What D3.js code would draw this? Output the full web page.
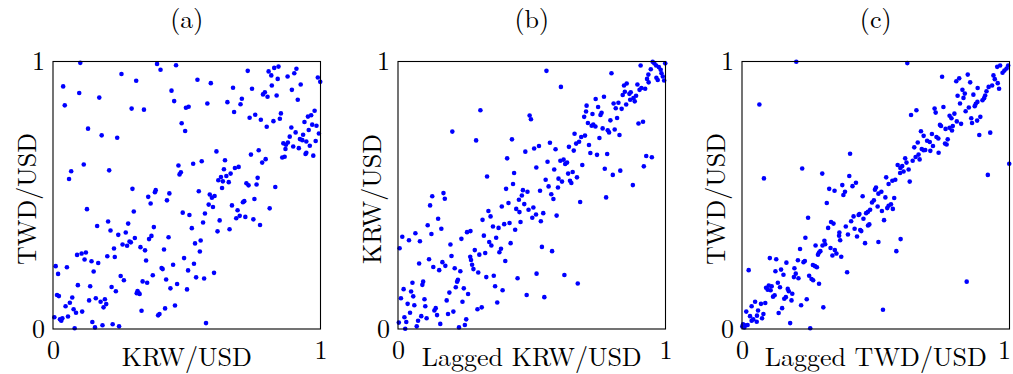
<!DOCTYPE html>
<html>
<head>
<meta charset="utf-8">
<script src="https://cdn.jsdelivr.net/npm/d3@7"></script>
<style>
  body { margin: 0; background: #fff; }
  svg { display: block; }
</style>
</head>
<body>
<div id="chart"></div>
<script>
// panel data (x, y in 0..1)
const titles = ["(a)", "(b)", "(c)"];
const xLabels = ["KRW/USD", "Lagged KRW/USD", "Lagged TWD/USD"];
const yLabels = ["TWD/USD", "KRW/USD", "TWD/USD"];
const tickValues = [0, 1];

const pointsA = [
  [0.102,0.995],[0.389,0.991],[0.402,0.969],[0.460,0.986],[0.256,0.953],[0.311,0.928],[0.038,0.907],[0.098,0.882],[0.173,0.865],[0.443,0.891],
  [0.453,0.852],[0.044,0.836],[0.294,0.824],[0.340,0.820],[0.497,0.827],[0.507,0.831],[0.481,0.769],[0.494,0.740],[0.131,0.749],[0.182,0.724],
  [0.240,0.715],[0.115,0.615],[0.068,0.590],[0.060,0.561],[0.210,0.593],[0.469,0.611],[0.478,0.586],[0.473,0.578],[0.297,0.524],[0.384,0.519],
  [0.381,0.511],[0.435,0.507],[0.356,0.494],[0.426,0.481],
  [0.728,0.965],[0.806,0.963],[0.816,0.948],[0.827,0.976],[0.843,0.981],[0.910,0.973],[0.902,0.956],[0.877,0.944],[0.840,0.935],[0.990,0.940],
  [0.999,0.924],[0.540,0.932],[0.590,0.919],[0.673,0.902],[0.744,0.898],[0.818,0.910],[0.926,0.914],[0.893,0.894],[0.785,0.877],[0.792,0.885],
  [0.802,0.868],[0.836,0.873],[0.706,0.861],[0.652,0.848],[0.701,0.840],[0.577,0.843],[0.915,0.857],[0.677,0.811],[0.735,0.790],[0.756,0.801],
  [0.777,0.782],[0.852,0.806],[0.848,0.786],[0.824,0.777],[0.799,0.756],[0.978,0.816],[0.953,0.794],[0.965,0.799],[0.940,0.774],[0.969,0.764],
  [0.985,0.760],[0.891,0.753],[0.907,0.735],[0.956,0.744],[0.935,0.726],[0.994,0.731],[0.885,0.719],[0.923,0.710],[0.932,0.706],[0.947,0.701],
  [0.861,0.694],[0.871,0.689],[0.878,0.697],[0.869,0.673],[0.898,0.682],[0.919,0.676],[0.960,0.685],[0.982,0.703],[0.611,0.664],[0.769,0.668],
  [0.740,0.652],[0.947,0.659],[0.944,0.654],[0.973,0.648],[0.857,0.641],[0.866,0.644],[0.643,0.631],[0.524,0.618],[0.556,0.627],[0.795,0.635],
  [0.782,0.622],[0.680,0.602],[0.694,0.606],[0.639,0.597],[0.664,0.581],[0.648,0.572],[0.628,0.568],[0.618,0.556],[0.635,0.552],[0.657,0.549],
  [0.765,0.565],[0.723,0.545],[0.731,0.537],[0.761,0.540],[0.632,0.527],[0.831,0.531],[0.545,0.515],[0.586,0.503],[0.594,0.491],[0.604,0.497],
  [0.753,0.486],
  [0.365,0.469],[0.127,0.448],[0.302,0.439],[0.485,0.435],[0.510,0.426],[0.165,0.385],[0.206,0.402],[0.215,0.368],[0.281,0.394],[0.244,0.352],
  [0.272,0.361],[0.377,0.381],[0.368,0.348],[0.359,0.336],[0.432,0.343],[0.306,0.340],[0.286,0.327],[0.291,0.324],[0.260,0.316],[0.277,0.311],
  [0.228,0.301],[0.327,0.306],[0.344,0.294],[0.415,0.297],[0.090,0.277],[0.107,0.282],[0.123,0.286],[0.118,0.260],[0.203,0.272],[0.231,0.269],
  [0.144,0.253],[0.169,0.247],[0.348,0.256],[0.490,0.265],[0.010,0.235],[0.052,0.231],[0.449,0.240],[0.406,0.228],[0.410,0.224],[0.505,0.219],
  [0.019,0.206],[0.152,0.215],[0.253,0.198],[0.265,0.182],[0.373,0.201],[0.423,0.185],[0.335,0.178],[0.352,0.173],[0.093,0.164],[0.139,0.160],
  [0.219,0.157],[0.235,0.141],[0.439,0.152],[0.464,0.168],[0.501,0.148],[0.316,0.142],[0.320,0.135],[0.324,0.131],[0.313,0.134],[0.015,0.127],
  [0.022,0.123],[0.072,0.118],[0.063,0.098],[0.047,0.085],[0.135,0.107],[0.160,0.115],[0.178,0.102],[0.194,0.111],[0.199,0.093],[0.189,0.081],
  [0.077,0.074],[0.086,0.061],[0.109,0.065],[0.331,0.068],[0.419,0.077],[0.456,0.088],[0.393,0.051],[0.398,0.056],[0.005,0.044],[0.056,0.047],
  [0.026,0.036],[0.035,0.040],[0.031,0.031],[0.147,0.026],[0.185,0.014],[0.223,0.018],[0.247,0.010],[0.157,0.006],[0.081,0.003],
  [0.582,0.465],[0.598,0.456],[0.669,0.462],[0.690,0.444],[0.710,0.474],[0.715,0.478],[0.810,0.451],[0.568,0.432],[0.685,0.414],[0.698,0.423],
  [0.719,0.419],[0.749,0.410],[0.774,0.389],[0.623,0.406],[0.561,0.398],[0.519,0.377],[0.615,0.365],[0.660,0.373],[0.552,0.331],[0.531,0.320],
  [0.549,0.290],[0.527,0.244],[0.602,0.210],[0.535,0.193],[0.565,0.189],[0.572,0.022]
];

const pointsB = [
  [0.308,0.818],[0.492,0.798],[0.497,0.784],[0.203,0.738],[0.292,0.705],[0.426,0.709],[0.509,0.675],[0.527,0.684],[0.476,0.663],[0.408,0.638],
  [0.517,0.604],[0.434,0.583],[0.333,0.570],[0.430,0.542],[0.404,0.524],[0.467,0.519],[0.484,0.513],[0.463,0.499],[0.170,0.508],[0.128,0.496],
  [0.175,0.487],[0.452,0.483],
  [0.555,0.965],[0.609,0.905],[0.798,0.956],[0.907,0.985],[0.952,0.999],[0.958,0.993],[0.965,0.985],[0.975,0.979],[0.982,0.969],[0.999,0.993],
  [0.945,0.971],[0.936,0.951],[0.931,0.935],[0.937,0.922],[0.966,0.939],[0.971,0.931],[0.990,0.944],[0.995,0.929],[0.985,0.956],[0.895,0.914],
  [0.855,0.918],[0.845,0.910],[0.910,0.901],[0.924,0.898],[0.903,0.894],[0.848,0.887],[0.840,0.875],[0.865,0.879],[0.870,0.885],[0.890,0.872],
  [0.880,0.863],[0.885,0.851],[0.868,0.857],[0.770,0.868],[0.739,0.860],[0.806,0.843],[0.824,0.846],[0.853,0.839],[0.814,0.825],[0.836,0.823],
  [0.705,0.835],[0.748,0.830],[0.703,0.813],[0.761,0.808],[0.757,0.800],[0.727,0.804],[0.696,0.793],[0.819,0.789],[0.794,0.780],[0.710,0.770],
  [0.724,0.760],[0.730,0.764],[0.738,0.757],[0.765,0.750],[0.784,0.743],[0.789,0.735],[0.810,0.746],[0.828,0.725],[0.899,0.768],[0.916,0.775],
  [0.660,0.730],[0.685,0.718],[0.699,0.723],[0.753,0.714],[0.677,0.700],[0.666,0.693],[0.568,0.696],[0.639,0.681],[0.657,0.667],[0.589,0.672],
  [0.714,0.688],[0.719,0.658],[0.744,0.651],[0.782,0.654],[0.928,0.647],[0.949,0.642],[0.559,0.625],[0.607,0.629],[0.619,0.633],[0.625,0.617],
  [0.632,0.622],[0.689,0.613],[0.584,0.596],[0.653,0.587],[0.636,0.581],[0.773,0.599],[0.831,0.592],[0.919,0.608],[0.803,0.576],[0.669,0.567],
  [0.552,0.558],[0.600,0.562],[0.613,0.551],[0.643,0.554],[0.648,0.546],[0.563,0.533],[0.598,0.529],[0.878,0.538],[0.531,0.517],[0.573,0.504],
  [0.581,0.486],[0.778,0.492],
  [0.120,0.462],[0.413,0.471],[0.388,0.458],[0.472,0.467],[0.506,0.454],[0.442,0.449],[0.454,0.437],[0.488,0.446],[0.516,0.428],[0.502,0.416],
  [0.338,0.441],[0.346,0.421],[0.316,0.408],[0.458,0.400],[0.150,0.412],[0.111,0.388],[0.162,0.375],[0.125,0.355],[0.355,0.383],[0.376,0.378],
  [0.397,0.392],[0.417,0.396],[0.438,0.371],[0.258,0.362],[0.271,0.366],[0.321,0.349],[0.367,0.341],[0.237,0.337],[0.341,0.325],[0.349,0.312],
  [0.421,0.321],[0.385,0.300],[0.379,0.287],[0.196,0.316],[0.016,0.345],[0.041,0.332],[0.065,0.358],[0.082,0.328],[0.006,0.302],[0.287,0.295],
  [0.304,0.278],[0.326,0.284],[0.200,0.273],[0.270,0.270],[0.273,0.258],[0.277,0.240],[0.282,0.224],[0.401,0.254],[0.116,0.261],[0.079,0.245],
  [0.132,0.232],[0.166,0.250],[0.177,0.236],[0.154,0.220],[0.212,0.227],[0.233,0.216],[0.300,0.211],[0.330,0.194],[0.358,0.199],[0.518,0.207],
  [0.447,0.190],[0.054,0.173],[0.094,0.177],[0.091,0.165],[0.224,0.184],[0.221,0.177],[0.363,0.160],[0.216,0.156],[0.246,0.152],[0.391,0.145],
  [0.021,0.149],[0.049,0.140],[0.057,0.122],[0.192,0.136],[0.262,0.131],[0.481,0.127],[0.011,0.115],[0.099,0.111],[0.182,0.107],[0.241,0.102],
  [0.371,0.099],[0.036,0.094],[0.061,0.089],[0.102,0.085],[0.141,0.078],[0.136,0.069],[0.207,0.065],[0.187,0.056],[0.146,0.052],[0.297,0.074],
  [0.313,0.081],[0.045,0.061],[0.087,0.048],[0.107,0.040],[0.024,0.044],[0.031,0.026],[0.075,0.031],[0.255,0.036],[0.003,0.024],[0.070,0.010],
  [0.158,0.019],[0.027,0.001],[0.228,0.006],[0.250,0.015],
  [0.681,0.475],[0.543,0.433],[0.534,0.403],[0.593,0.424],[0.538,0.307],[0.576,0.291],[0.622,0.202],[0.672,0.170],[0.547,0.119]
];

const pointsC = [
  [0.203,0.999],[0.065,0.839],[0.404,0.655],[0.225,0.600],[0.082,0.563],[0.300,0.581],[0.401,0.572],[0.426,0.547],[0.413,0.534],[0.375,0.538],
  [0.326,0.524],[0.346,0.517],[0.385,0.513],[0.379,0.501],[0.451,0.496],[0.501,0.529],[0.497,0.521],[0.510,0.506],
  [0.618,0.994],[0.748,0.943],[0.801,0.926],[0.812,0.937],[0.844,0.951],[0.853,0.922],[0.954,0.980],[0.965,0.985],[0.974,0.958],[0.981,0.966],
  [0.989,0.974],[0.995,0.985],[0.940,0.948],[0.945,0.934],[0.956,0.919],[0.961,0.898],[0.935,0.910],[0.922,0.905],[0.914,0.889],[0.909,0.873],
  [0.899,0.855],[0.905,0.863],[0.881,0.901],[0.865,0.876],[0.824,0.894],[0.833,0.880],[0.806,0.872],[0.828,0.864],[0.880,0.849],[0.870,0.833],
  [0.874,0.842],[0.815,0.843],[0.848,0.828],[0.836,0.814],[0.753,0.830],[0.720,0.824],[0.724,0.809],[0.652,0.818],[0.632,0.800],[0.776,0.797],
  [0.783,0.788],[0.794,0.805],[0.803,0.776],[0.819,0.767],[0.857,0.788],[0.860,0.770],[0.879,0.779],[0.891,0.793],[0.740,0.763],[0.744,0.759],
  [0.761,0.748],[0.776,0.752],[0.788,0.759],[0.785,0.742],[0.887,0.725],[0.928,0.734],[0.669,0.739],[0.679,0.722],[0.710,0.729],[0.692,0.704],
  [0.702,0.699],[0.727,0.718],[0.734,0.712],[0.769,0.709],[0.765,0.690],[0.759,0.693],[0.657,0.697],[0.644,0.679],[0.714,0.684],[0.704,0.666],
  [0.672,0.673],[0.679,0.668],[0.685,0.669],[0.735,0.659],[0.660,0.652],[0.649,0.643],[0.638,0.629],[0.664,0.634],[0.610,0.638],[0.615,0.622],
  [0.582,0.613],[0.592,0.602],[0.599,0.609],[0.591,0.583],[0.604,0.589],[0.623,0.596],[0.999,0.618],[0.919,0.576],[0.539,0.567],[0.562,0.554],
  [0.573,0.558],[0.548,0.542],[0.627,0.551],[0.521,0.513],[0.536,0.492],[0.569,0.490],
  [0.317,0.471],[0.486,0.473],[0.493,0.481],[0.507,0.458],[0.247,0.416],[0.417,0.421],[0.436,0.426],[0.439,0.430],[0.454,0.412],[0.464,0.433],
  [0.471,0.438],[0.479,0.446],[0.408,0.403],[0.333,0.400],[0.342,0.394],[0.322,0.378],[0.388,0.383],[0.421,0.375],[0.442,0.370],[0.446,0.366],
  [0.476,0.391],[0.471,0.387],[0.364,0.361],[0.363,0.349],[0.367,0.332],[0.396,0.353],[0.430,0.346],[0.460,0.321],[0.510,0.325],[0.237,0.341],
  [0.308,0.330],[0.311,0.317],[0.301,0.312],[0.275,0.312],[0.331,0.303],[0.347,0.295],[0.353,0.282],[0.288,0.286],[0.293,0.291],[0.284,0.278],
  [0.338,0.275],[0.371,0.270],[0.217,0.299],[0.104,0.265],[0.128,0.261],[0.166,0.248],[0.209,0.257],[0.230,0.250],[0.235,0.254],[0.265,0.239],
  [0.273,0.235],[0.280,0.231],[0.146,0.222],[0.125,0.216],[0.025,0.220],[0.196,0.227],[0.393,0.212],[0.201,0.207],[0.194,0.194],[0.211,0.190],
  [0.155,0.203],[0.251,0.199],[0.260,0.187],[0.266,0.182],[0.288,0.169],[0.134,0.173],[0.100,0.162],[0.111,0.160],[0.142,0.156],[0.090,0.154],
  [0.096,0.147],[0.107,0.145],[0.171,0.150],[0.175,0.141],[0.188,0.132],[0.122,0.126],[0.116,0.121],[0.164,0.119],[0.158,0.113],[0.185,0.107],
  [0.242,0.111],[0.049,0.102],[0.071,0.094],[0.087,0.097],[0.036,0.085],[0.221,0.089],[0.304,0.081],[0.150,0.078],[0.016,0.065],[0.060,0.069],
  [0.080,0.056],[0.056,0.050],[0.075,0.040],[0.137,0.060],[0.030,0.048],[0.042,0.036],[0.055,0.027],[0.036,0.031],[0.004,0.018],[0.011,0.014],
  [0.021,0.015],[0.009,0.006],[0.001,0.009],[0.180,0.022],[0.255,0.003],
  [0.548,0.461],[0.557,0.466],[0.543,0.452],[0.564,0.449],[0.523,0.441],[0.531,0.407],[0.593,0.336],[0.577,0.291],[0.840,0.177],[0.527,0.072]
];

const panels = [pointsA, pointsB, pointsC];

const W = 1013, H = 374;
const lefts = [53, 398, 742];
const panelTop = 61.5, size = 267.5;
const font = "'Latin Modern Roman', 'CMU Serif', 'Liberation Serif', serif";
const fs = 26;

const svg = d3.select("#chart").append("svg")
  .attr("width", W).attr("height", H);

panels.forEach((pts, i) => {
  const left = lefts[i];
  const x = d3.scaleLinear().domain([0, 1]).range([left, left + size]);
  const y = d3.scaleLinear().domain([0, 1]).range([panelTop + size, panelTop]);

  // ticks 0 / 1
  const gx = svg.append("g")
    .attr("transform", "translate(0," + (panelTop + size) + ")")
    .call(d3.axisBottom(x).tickValues(tickValues).tickSize(0).tickPadding(12).tickFormat(d3.format("d")));
  const gy = svg.append("g")
    .attr("transform", "translate(" + left + ",0)")
    .call(d3.axisLeft(y).tickValues(tickValues).tickSize(0).tickPadding(8).tickFormat(d3.format("d")));
  [gx, gy].forEach(g => {
    g.select(".domain").remove();
    g.selectAll("text")
      .attr("font-family", font)
      .attr("font-size", fs)
      .attr("fill", "#000");
  });
  // last "1" sits against the page edge, nudge it in a bit
  if (x(1) + 8 > W) {
    gx.selectAll("text").filter(d => d === 1).attr("x", W - 9 - x(1));
  }

  // dots
  svg.append("g").selectAll("circle")
    .data(pts)
    .enter()
    .append("circle")
    .attr("cx", d => x(d[0]))
    .attr("cy", d => y(d[1]))
    .attr("r", 2.3)
    .attr("fill", "#0000ff");

  // frame
  svg.append("rect")
    .attr("x", left).attr("y", panelTop)
    .attr("width", size).attr("height", size)
    .attr("fill", "none")
    .attr("stroke", "#000")
    .attr("stroke-width", 1.1);

  // title
  svg.append("text")
    .attr("x", left + size / 2).attr("y", 28)
    .attr("text-anchor", "middle")
    .attr("font-family", font).attr("font-size", fs)
    .text(titles[i]);

  // x label
  svg.append("text")
    .attr("x", left + size / 2).attr("y", 366)
    .attr("text-anchor", "middle")
    .attr("font-family", font).attr("font-size", fs)
    .text(xLabels[i]);

  // y label
  svg.append("text")
    .attr("transform", "translate(" + (left - 17) + "," + 199 + ") rotate(-90)")
    .attr("text-anchor", "middle")
    .attr("font-family", font).attr("font-size", fs)
    .text(yLabels[i]);
});
</script>
</body>
</html>
